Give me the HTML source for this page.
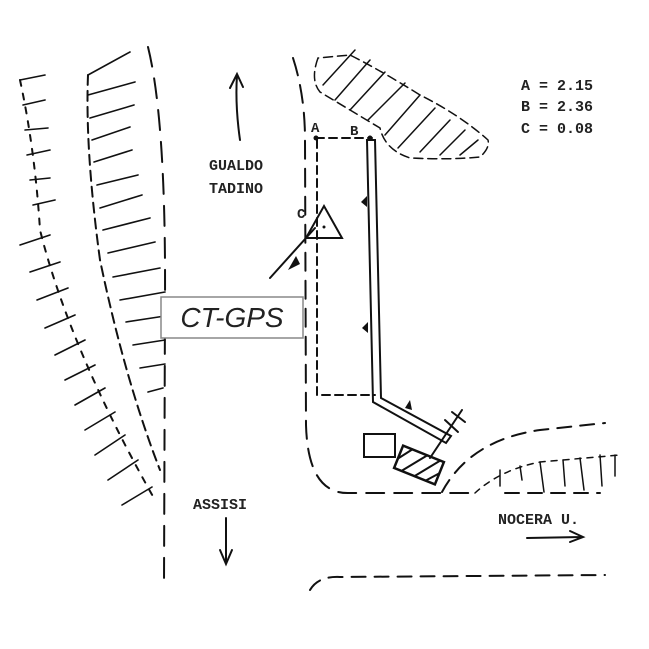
<!DOCTYPE html>
<html><head><meta charset="utf-8"><style>
html,body{margin:0;padding:0;background:#fff}
svg{display:block}
.t{font-family:"Liberation Mono",monospace;font-weight:bold;fill:#222}
</style></head><body>
<svg width="649" height="649" viewBox="0 0 649 649" xmlns="http://www.w3.org/2000/svg">
<g fill="none" stroke="#111" stroke-width="2" stroke-linecap="round">
<path d="M148,47 Q166,120 165,300 L164,585" stroke-dasharray="20,12"/>
<path d="M88,75 Q85,150 100,260 Q125,380 160,470" stroke-dasharray="10,6"/>
<path d="M20,80 Q35,150 40,230 Q70,350 155,500" stroke-dasharray="6,8"/>
<g stroke-width="1.6">
<path d="M88,75 L130,52 M88,95 L135,82 M90,118 L134,105 M92,140 L130,127 M94,162 L132,150 M97,185 L138,175 M100,208 L142,195 M103,230 L150,218 M108,253 L155,242 M113,277 L160,268 M120,300 L165,292 M126,322 L165,316 M133,345 L165,340 M140,368 L165,364 M148,392 L163,388"/>
<path d="M20,80 L45,75 M23,105 L45,100 M25,130 L48,128 M27,155 L50,150 M30,180 L50,178 M33,205 L55,200 M20,245 L50,235 M30,272 L60,262 M37,300 L68,288 M45,328 L75,315 M55,355 L85,340 M65,380 L95,365 M75,405 L105,388 M85,430 L115,412 M95,455 L125,435 M108,480 L138,460 M122,505 L152,487"/>
</g>
<path d="M293,58 Q305,95 305,140 L306,425 Q308,495 350,493 L475,493" stroke-dasharray="18,10"/>
<path d="M316,138 L372,138 M317,140 L317,395 L375,395" stroke-dasharray="8,5"/>
<path d="M367,140 L373,402 L446,443 L451,436 L381,398 L375,140 Z" stroke-width="2"/>
<path d="M240,140 Q235,105 237,75 M230,88 L237,74 L243,87"/>
<path d="M226,518 L226,563 M220,550 L226,564 L232,550"/>
<path d="M527,538 L582,537 M570,531 L583,537 L570,542"/>
<path d="M270,278 L315,228"/>
<path d="M306,238 L342,238 L324,206 Z" stroke-width="2"/>
<path d="M318,58 Q310,80 320,92 Q350,110 380,128 Q385,150 410,158 Q450,160 480,157 Q490,148 488,140 Q460,115 420,95 Q380,70 350,55 Z" stroke-dasharray="9,5" stroke-width="1.5"/>
<g stroke-width="1.5">
<path d="M323,85 L355,50 M335,100 L370,60 M350,110 L385,72 M368,120 L405,83 M385,135 L420,95 M398,148 L435,108 M420,152 L450,120 M440,155 L465,130 M460,155 L478,140"/>
</g>
<rect x="364" y="434" width="31" height="23" stroke-width="2"/>
<g transform="translate(419,465) rotate(22)">
<rect x="-22" y="-12" width="44" height="24" stroke-width="2.5"/>
<path d="M-14,12 L4,-12 M0,12 L18,-12 M-22,2 L-12,-12 M12,12 L22,0" stroke-width="2"/>
</g>
<path d="M430,458 L462,410 M445,420 L458,432 M452,412 L465,422" stroke-width="2"/>
<path d="M442,492 Q470,440 540,430 L605,423" stroke-dasharray="14,9"/>
<path d="M475,493 Q500,470 540,462 L620,455" stroke-dasharray="6,6" stroke-width="1.5"/>
<path d="M500,470 L500,486 M520,466 L522,480 M540,462 L544,492 M563,460 L565,486 M580,458 L584,490 M600,455 L602,486 M615,455 L615,476" stroke-width="1.5"/>
<path d="M505,493 L600,493" stroke-dasharray="14,9"/>
<path d="M310,590 Q318,576 340,577 L605,575" stroke-dasharray="14,9"/>
</g>
<g fill="#111">
<circle cx="316" cy="138" r="2.5"/><circle cx="370" cy="138" r="2.5"/>
<circle cx="324" cy="227" r="1.5"/>
<path d="M367,196 L361,202 L367,207 Z"/>
<path d="M368,322 L362,328 L368,333 Z"/>
<path d="M410,400 L405,408 L412,410 Z"/>
<path d="M288,270 L296,256 L300,264 Z"/>
</g>
<text class="t" x="311" y="132" font-size="14">A</text>
<text class="t" x="350" y="135" font-size="14">B</text>
<text class="t" x="297" y="218" font-size="14">C</text>
<text class="t" x="521" y="90" font-size="15" font-weight="normal">A = 2.15</text>
<text class="t" x="521" y="111" font-size="15" font-weight="normal">B = 2.36</text>
<text class="t" x="521" y="133" font-size="15" font-weight="normal">C = 0.08</text>
<text class="t" x="209" y="170" font-size="15">GUALDO</text>
<text class="t" x="209" y="193" font-size="15">TADINO</text>
<text class="t" x="193" y="509" font-size="15">ASSISI</text>
<text class="t" x="498" y="524" font-size="15">NOCERA U.</text>
<rect x="161" y="297" width="142" height="41" fill="#fff" stroke="#888" stroke-width="1.5"/>
<text x="232" y="327" font-family="Liberation Sans,sans-serif" font-style="italic" font-size="28" text-anchor="middle" fill="#222">CT-GPS</text>
</svg>
</body></html>
